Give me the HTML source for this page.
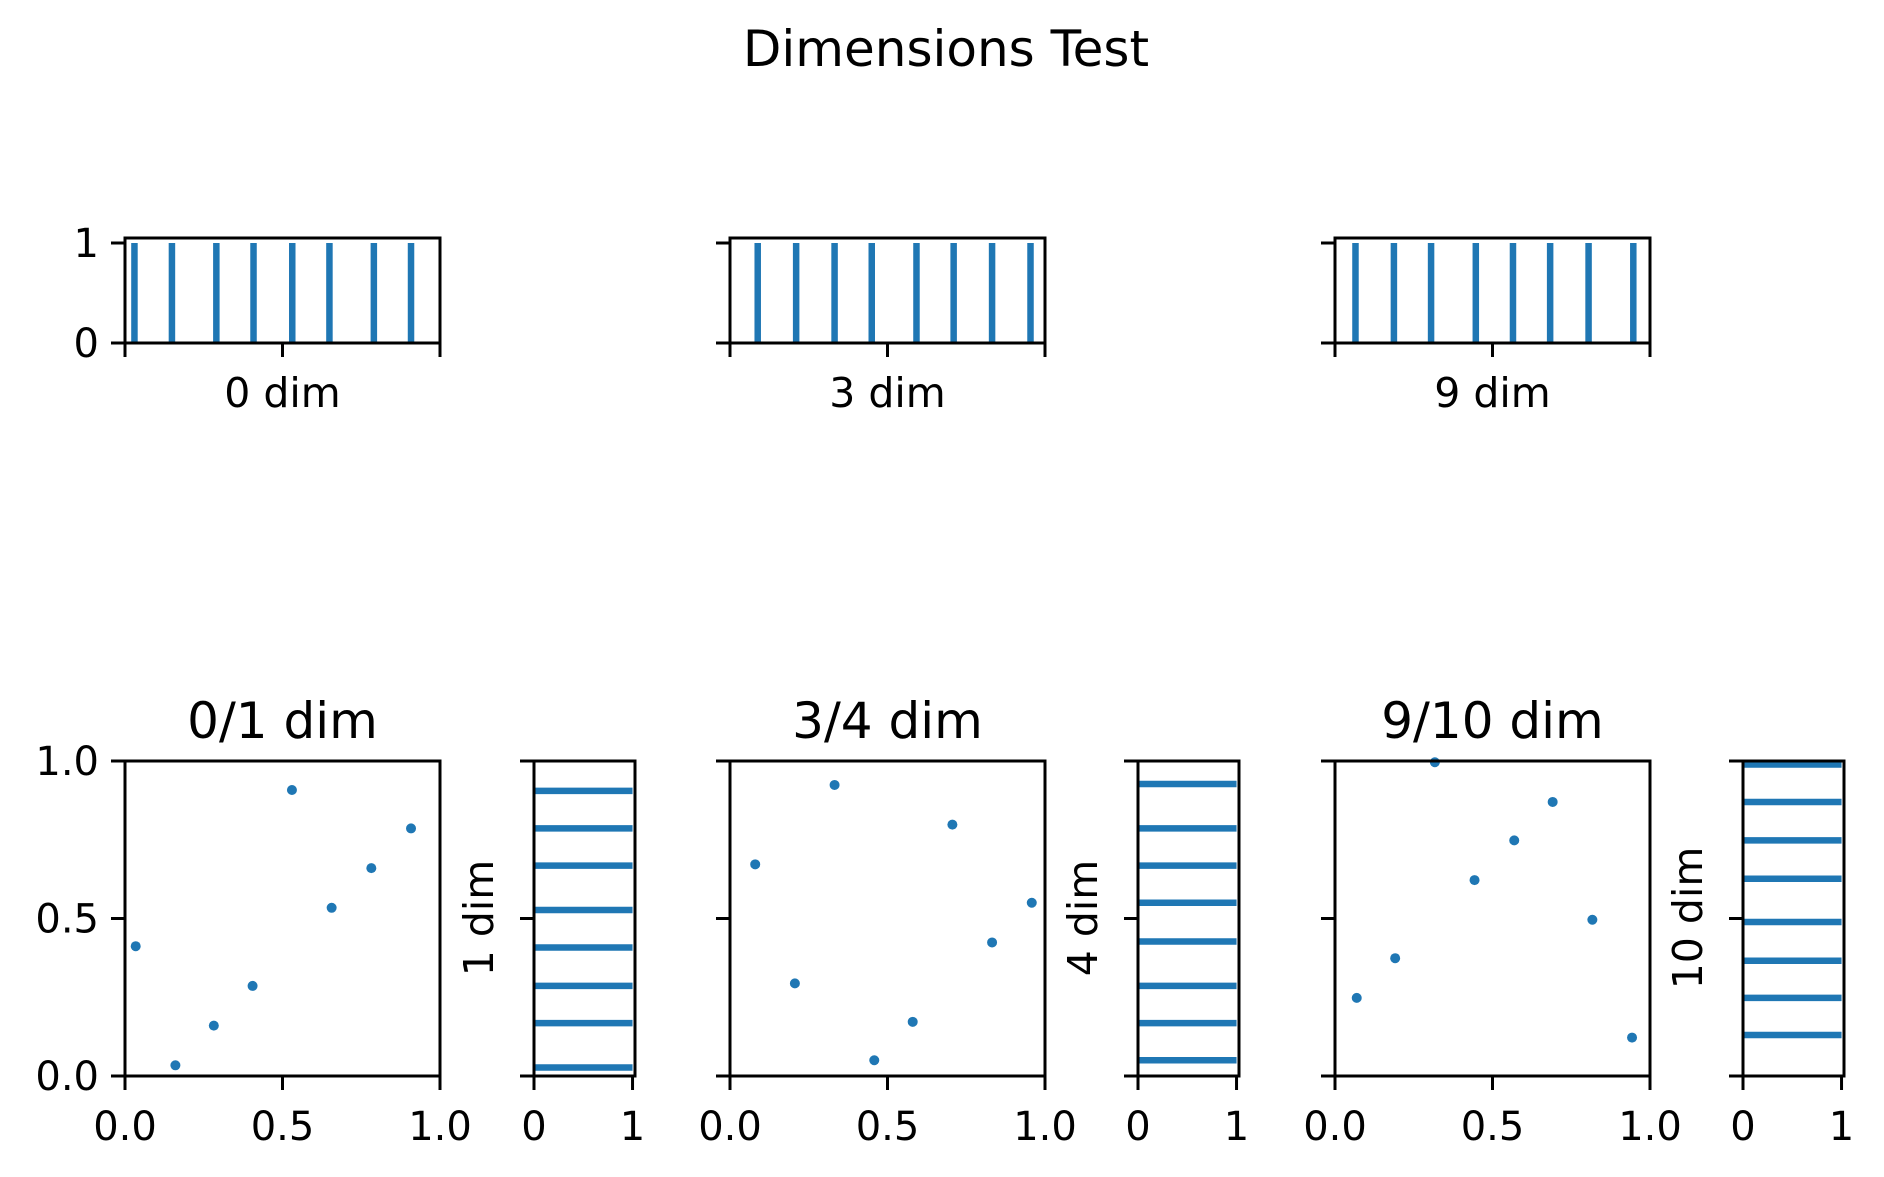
<!DOCTYPE html>
<html><head><meta charset="utf-8"><style>
html,body{margin:0;padding:0;background:#fff}
svg{display:block}
text{font-family:"DejaVu Sans","Liberation Sans",sans-serif;fill:#000}
</style></head><body>
<svg id="fig" width="1884" height="1177" viewBox="0 0 1884 1177" xmlns="http://www.w3.org/2000/svg">
<rect width="1884" height="1177" fill="#fff"/>
<text x="946" y="66" font-size="50" text-anchor="middle">Dimensions Test</text>
</svg>
<script>
const topLabels = ["0 dim","3 dim","9 dim"];
const topX0 = [0.03,0.149,0.29,0.408,0.531,0.649,0.79,0.908];
const topX1 = [0.088,0.21,0.332,0.45,0.592,0.71,0.832,0.954];
const topX2 = [0.065,0.187,0.305,0.447,0.565,0.683,0.805,0.947];
const scatTitles = ["0/1 dim","3/4 dim","9/10 dim"];
const scatX0 = [0.034,0.16,0.282,0.405,0.53,0.656,0.782,0.908];
const scatY0 = [0.412,0.034,0.160,0.286,0.908,0.534,0.660,0.786];
const scatX1 = [0.08,0.206,0.332,0.458,0.58,0.706,0.832,0.958];
const scatY1 = [0.672,0.294,0.924,0.05,0.172,0.798,0.424,0.55];
const scatX2 = [0.069,0.191,0.317,0.443,0.569,0.691,0.817,0.943];
const scatY2 = [0.248,0.374,0.996,0.622,0.748,0.870,0.496,0.122];
const sideLabels = ["1 dim","4 dim","10 dim"];
const sideY0 = [0.905,0.786,0.668,0.527,0.408,0.286,0.168,0.027];
const sideY1 = [0.927,0.786,0.668,0.55,0.427,0.286,0.168,0.05];
const sideY2 = [0.989,0.870,0.748,0.626,0.489,0.366,0.248,0.130];
const scatTicks = ["0.0","0.5","1.0"];
const sideTicks = ["0","1"];
const topYTicks = ["0","1"];

const svg = document.getElementById('fig');
const NS = 'http://www.w3.org/2000/svg';
const C = '#1f77b4';
function mk(tag, attrs, parent){const e=document.createElementNS(NS,tag);for(const k in attrs)e.setAttribute(k,attrs[k]);(parent||svg).appendChild(e);return e;}
function txt(s, attrs, parent){const e=mk('text',attrs,parent);e.textContent=s;return e;}
function lin(x1,y1,x2,y2,parent,w,c){return mk('line',{x1,y1,x2,y2,stroke:c||'#000','stroke-width':w||3},parent);}
function scale(d0,d1,r0,r1){return v=>r0+(v-d0)/(d1-d0)*(r1-r0);}

const colL = [125,730,1335];
const W = 315;
const topXs = [topX0,topX1,topX2];
const scX = [scatX0,scatX1,scatX2];
const scY = [scatY0,scatY1,scatY2];
const sdY = [sideY0,sideY1,sideY2];
const sideL = [534,1138,1743];
const SW = 101;
const TL = 14;

for (let i=0;i<3;i++){
  const g = mk('g',{});
  
  
  const x = scale(0,1,colL[i],colL[i]+W);
  const y = scale(0,1.05,343,238);
  topXs[i].forEach((v,j)=>{
    const l = lin(x(v),y(0),x(v),y(1),g,6.5,C);
    
    
  });
  mk('rect',{x:colL[i],y:238,width:W,height:105,fill:'none',stroke:'#000','stroke-width':3},g);
  [0,0.5,1].forEach(t=>lin(x(t),343,x(t),343+TL,g));
  [0,1].forEach((t,k)=>{
    lin(colL[i]-TL,y(t),colL[i],y(t),g);
    if(i===0){
      const tl = txt(topYTicks[k],{x:colL[i]-TL-12,y:y(t)+14,'font-size':40,'text-anchor':'end'},g);
      
      
    }
  });
  const xl = txt(topLabels[i],{x:colL[i]+W/2,y:407,'font-size':41,'text-anchor':'middle'},g);
  
  

  const s = mk('g',{});
  
  
  const sx = scale(0,1,colL[i],colL[i]+W);
  const sy = scale(0,1,1076,761);
  scX[i].forEach((v,j)=>{
    const c = mk('circle',{cx:sx(v),cy:sy(scY[i][j]),r:5,fill:C},s);
    
    
  });
  mk('rect',{x:colL[i],y:761,width:W,height:315,fill:'none',stroke:'#000','stroke-width':3},s);
  [0,0.5,1].forEach((t,k)=>{
    lin(sx(t),1076,sx(t),1076+TL,s);
    const xt = txt(scatTicks[k],{x:sx(t),y:1140,'font-size':40,'text-anchor':'middle'},s);
    
    
    lin(colL[i]-TL,sy(t),colL[i],sy(t),s);
    if(i===0){
      const yt = txt(scatTicks[k],{x:colL[i]-TL-12,y:sy(t)+14,'font-size':40,'text-anchor':'end'},s);
      
      
    }
  });
  const tt = txt(scatTitles[i],{x:colL[i]+W/2,y:738,'font-size':50,'text-anchor':'middle'},s);
  
  

  const d = mk('g',{});
  
  
  const dx = scale(0,1.025,sideL[i],sideL[i]+SW);
  const dy = scale(0,1,1076,761);
  sdY[i].forEach((v,j)=>{
    const l = lin(dx(0),dy(v),dx(1),dy(v),d,6.5,C);
    
    
  });
  mk('rect',{x:sideL[i],y:761,width:SW,height:315,fill:'none',stroke:'#000','stroke-width':3},d);
  [0,1].forEach((t,k)=>{
    lin(dx(t),1076,dx(t),1076+TL,d);
    const xt = txt(sideTicks[k],{x:dx(t),y:1140,'font-size':40,'text-anchor':'middle'},d);
    
    
  });
  [0,0.5,1].forEach(t=>lin(sideL[i]-TL,dy(t),sideL[i],dy(t),d));
  const lx = sideL[i]-TL-27;
  const yl = txt(sideLabels[i],{x:lx,y:918,'font-size':41,'text-anchor':'middle',transform:`rotate(-90 ${lx} 918)`},d);
  
  
}
</script>
</body></html>
